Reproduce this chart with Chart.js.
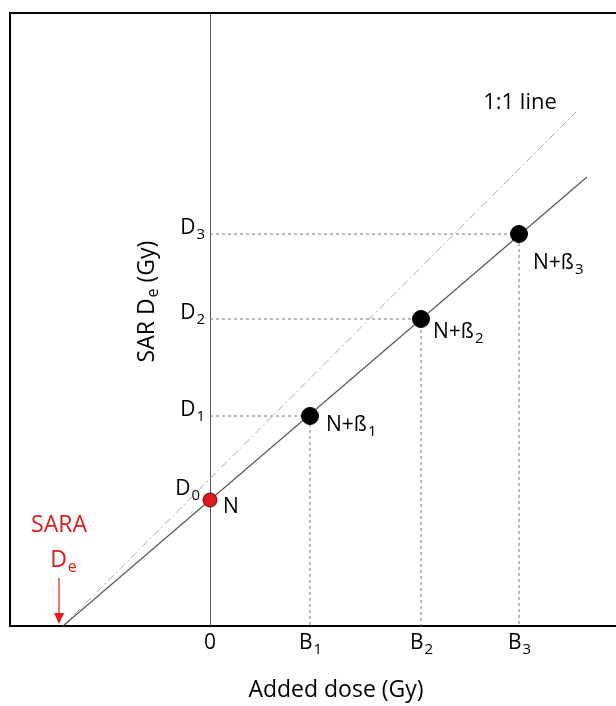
<!DOCTYPE html>
<html>
<head>
<meta charset="utf-8">
<script src="https://cdn.jsdelivr.net/npm/chart.js@4"></script>
<style>
  html, body { margin: 0; background: #fff; overflow: hidden; }
  canvas { display: block; }
</style>
</head>
<body>
<canvas id="chart" width="616" height="706"></canvas>
<script>
// values (10 px = 1 unit)
const addedDose = [0, 10, 21.1, 30.9];
const sarDe = [12.6, 21.0, 30.7, 39.2];
const pointNames = ['N', 'N+ß', 'N+ß', 'N+ß'];
const pointSubs = ['', '1', '2', '3'];
const doseTicks = ['0', 'B', 'B', 'B'];
const doseSubs = ['', '1', '2', '3'];
const sarTicks = ['D', 'D', 'D', 'D'];
const sarSubs = ['0', '1', '2', '3'];
const saraDe = -14.7;
const fitEnd = [37.7, 44.9];
const oneToOneEnd = [36.6, 51.4];

const FONT = '"Open Sans", Lato, sans-serif';
const RED = '#e01b1b';

// guide lines from the y axis to each point and down to the x axis
const guides = addedDose.slice(1).map((x, i) => ({
  type: 'line',
  data: [{x: 0, y: sarDe[i + 1]}, {x: x, y: sarDe[i + 1]}, {x: x, y: 0}],
  borderColor: '#777',
  borderWidth: 1,
  borderDash: [3, 3],
  pointRadius: 0,
  fill: false
}));

function subText(ctx, main, sub, x, y, size, align) {
  const small = Math.round(size * 0.7);
  ctx.font = size + 'px ' + FONT;
  const w1 = ctx.measureText(main).width;
  ctx.font = small + 'px ' + FONT;
  const w2 = ctx.measureText(sub).width;
  let left = x;
  if (align === 'center') left = x - (w1 + w2) / 2;
  if (align === 'right') left = x - (w1 + w2);
  ctx.textAlign = 'left';
  ctx.textBaseline = 'middle';
  ctx.font = size + 'px ' + FONT;
  ctx.fillText(main, left, y);
  ctx.font = small + 'px ' + FONT;
  ctx.fillText(sub, left + w1 + 1, y + size * 0.32);
}

const labelOffsets = [[13, 7], [16, 9], [12, 13], [14, 29]];

const decor = {
  id: 'decor',
  beforeDatasetsDraw(chart) {
    const {ctx, chartArea: a, scales: {x}} = chart;
    ctx.save();
    // frame top
    ctx.strokeStyle = '#000';
    ctx.lineWidth = 2;
    ctx.beginPath();
    ctx.moveTo(a.left - 1, a.top);
    ctx.lineTo(a.right + 20, a.top);
    ctx.stroke();
    // zero line
    ctx.strokeStyle = '#555';
    ctx.lineWidth = 1;
    const x0 = Math.round(x.getPixelForValue(0)) + 0.5;
    ctx.beginPath();
    ctx.moveTo(x0, a.top);
    ctx.lineTo(x0, a.bottom);
    ctx.stroke();
    ctx.restore();
  },
  afterDatasetsDraw(chart) {
    const {ctx, scales: {x, y}} = chart;
    ctx.save();
    ctx.fillStyle = '#000';
    // x tick labels
    addedDose.forEach((v, i) => {
      subText(ctx, doseTicks[i], doseSubs[i], x.getPixelForValue(v), 643, 21, 'center');
    });
    // y tick labels
    sarDe.forEach((v, i) => {
      const py = y.getPixelForValue(v) - (i === 0 ? 11 : 6);
      subText(ctx, sarTicks[i], sarSubs[i], x.getPixelForValue(0) - (i === 0 ? 11 : 6), py, 21, 'right');
    });
    // point labels
    addedDose.forEach((v, i) => {
      subText(ctx, pointNames[i], pointSubs[i],
        x.getPixelForValue(v) + labelOffsets[i][0],
        y.getPixelForValue(sarDe[i]) + labelOffsets[i][1], 21, 'left');
    });
    // 1:1 line label
    ctx.font = '22px ' + FONT;
    ctx.textAlign = 'center';
    ctx.textBaseline = 'middle';
    ctx.fillText('1:1 line', 520, 103);
    // axis titles
    ctx.font = '23px ' + FONT;
    ctx.fillText('Added dose (Gy)', 336, 690);
    ctx.save();
    ctx.translate(147, 302);
    ctx.rotate(-Math.PI / 2);
    const t1 = 'SAR D', t2 = 'e', t3 = ' (Gy)';
    ctx.font = '23px ' + FONT;
    const w1 = ctx.measureText(t1).width;
    const w3 = ctx.measureText(t3).width;
    ctx.font = '16px ' + FONT;
    const w2 = ctx.measureText(t2).width;
    const lx = -(w1 + w2 + w3) / 2;
    ctx.textAlign = 'left';
    ctx.font = '23px ' + FONT;
    ctx.fillText(t1, lx, 0);
    ctx.font = '16px ' + FONT;
    ctx.fillText(t2, lx + w1 + 1, 6);
    ctx.font = '23px ' + FONT;
    ctx.fillText(t3, lx + w1 + w2 + 1, 0);
    ctx.restore();
    // SARA De with arrow
    ctx.fillStyle = RED;
    ctx.strokeStyle = RED;
    ctx.font = '23px ' + FONT;
    ctx.textAlign = 'center';
    ctx.fillText('SARA', 59, 525);
    subText(ctx, 'D', 'e', 63, 560, 23, 'center');
    const ax = x.getPixelForValue(saraDe) - 4;
    const ay = y.getPixelForValue(0) - 2;
    ctx.lineWidth = 1.2;
    ctx.beginPath();
    ctx.moveTo(ax, 578);
    ctx.lineTo(ax, ay - 8);
    ctx.stroke();
    ctx.beginPath();
    ctx.moveTo(ax - 5, ay - 11);
    ctx.lineTo(ax + 5, ay - 11);
    ctx.lineTo(ax, ay);
    ctx.closePath();
    ctx.fill();
    ctx.restore();
  }
};

new Chart(document.getElementById('chart'), {
  type: 'scatter',
  data: {
    datasets: [
      {
        type: 'line',
        data: addedDose.map((v, i) => ({x: v, y: sarDe[i]})),
        showLine: false,
        pointRadius: [7, 8.5, 8.5, 8.5],
        pointBackgroundColor: [RED, '#000', '#000', '#000'],
        pointBorderColor: ['#600', '#000', '#000', '#000'],
        pointBorderWidth: 1,
        order: 0
      },
      {
        type: 'line',
        data: [{x: saraDe, y: 0}, {x: fitEnd[0], y: fitEnd[1]}],
        borderColor: '#555',
        borderWidth: 1.2,
        pointRadius: 0,
        order: 1
      },
      {
        type: 'line',
        data: [{x: saraDe, y: 0}, {x: oneToOneEnd[0], y: oneToOneEnd[1]}],
        borderColor: '#aaa',
        borderWidth: 1,
        borderDash: [8, 3, 2, 3],
        pointRadius: 0,
        order: 2
      },
      ...guides.map(g => Object.assign(g, {order: 3}))
    ]
  },
  options: {
    responsive: false,
    animation: false,
    layout: {autoPadding: false, padding: {left: 10, top: 13, right: 0, bottom: 80}},
    plugins: {legend: {display: false}, tooltip: {enabled: false}},
    scales: {
      x: {
        type: 'linear', min: -20, max: 40.6,
        ticks: {display: false},
        grid: {display: false, drawTicks: false},
        border: {display: true, color: '#000', width: 2}
      },
      y: {
        type: 'linear', min: 0, max: 61.3,
        ticks: {display: false},
        grid: {display: false, drawTicks: false},
        border: {display: true, color: '#000', width: 2}
      }
    }
  },
  plugins: [decor]
});
</script>
</body>
</html>
